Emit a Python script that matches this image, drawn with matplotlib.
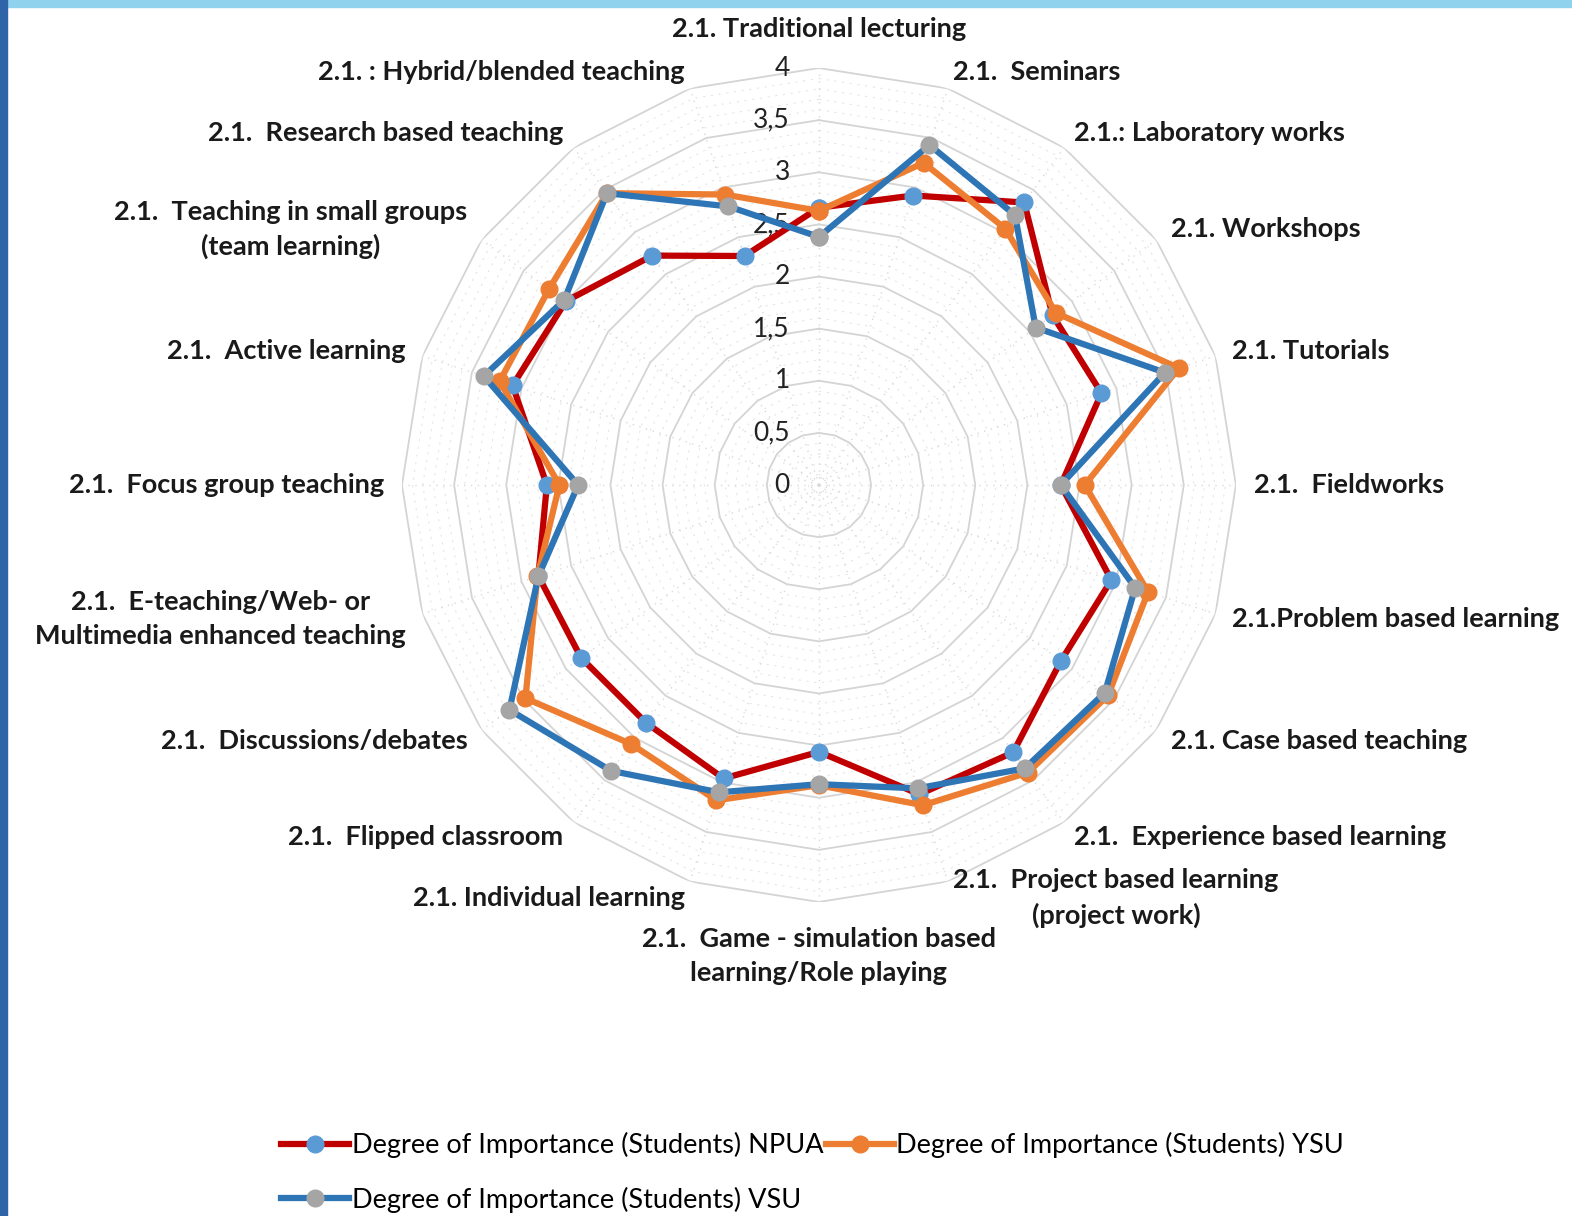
import numpy as np
import matplotlib.pyplot as plt
from matplotlib.patches import Rectangle

plt.rcParams['font.family'] = ['Lato', 'DejaVu Sans']

# --- data ---
categories = [
    "2.1. Traditional lecturing",
    "2.1.  Seminars",
    "2.1.: Laboratory works",
    "2.1. Workshops",
    "2.1. Tutorials",
    "2.1.  Fieldworks",
    "2.1.Problem based learning",
    "2.1. Case based teaching",
    "2.1.  Experience based learning",
    "2.1.  Project based learning\n(project work)",
    "2.1.  Game - simulation based\nlearning/Role playing",
    "2.1. Individual learning",
    "2.1.  Flipped classroom",
    "2.1.  Discussions/debates",
    "2.1.  E-teaching/Web- or\nMultimedia enhanced teaching",
    "2.1.  Focus group teaching",
    "2.1.  Active learning",
    "2.1.  Teaching in small groups\n(team learning)",
    "2.1.  Research based teaching",
    "2.1. : Hybrid/blended teaching",
]
npua = [2.66, 2.92, 3.35, 2.77, 2.85, 2.32, 2.95, 2.87, 3.17, 3.12,
        2.56, 2.96, 2.82, 2.82, 2.83, 2.61, 3.09, 3.00, 2.72, 2.31]
ysu = [2.63, 3.25, 3.04, 2.81, 3.63, 2.55, 3.32, 3.43, 3.41, 3.23,
       2.88, 3.18, 3.07, 3.48, 2.84, 2.49, 3.22, 3.20, 3.46, 2.93]
vsu = [2.38, 3.43, 3.20, 2.57, 3.49, 2.32, 3.19, 3.39, 3.36, 3.06,
       2.87, 3.10, 3.39, 3.67, 2.83, 2.31, 3.38, 3.02, 3.46, 2.81]
series_names = ["Degree of Importance (Students) NPUA",
                "Degree of Importance (Students) YSU",
                "Degree of Importance (Students) VSU"]
r_ticks = [0, 0.5, 1, 1.5, 2, 2.5, 3, 3.5, 4]
r_tick_labels = ["0", "0,5", "1", "1,5", "2", "2,5", "3", "3,5", "4"]

n = len(categories)
theta = np.linspace(0, 2 * np.pi, n, endpoint=False)
theta_c = np.append(theta, theta[0])

fig = plt.figure(figsize=(15.72, 12.16), dpi=100)
fig.patch.set_facecolor('white')
# slide frame strips
fig.add_artist(Rectangle((0, 0.994), 1, 0.006, transform=fig.transFigure,
                         color='#8fd2ee', zorder=0))
fig.add_artist(Rectangle((0, 0), 0.0045, 1, transform=fig.transFigure,
                         color='#2f64a8', zorder=0))

ax = fig.add_axes([0.2557, 0.2582, 0.5305, 0.6859], projection='polar')
ax.set_theta_zero_location('N')
ax.set_theta_direction(-1)
ax.set_ylim(0, 4)
ax.grid(False)
ax.spines['polar'].set_visible(False)
ax.set_xticks([])
ax.set_yticks([])
ax.patch.set_alpha(0)

# polygon gridlines: minor every 0.1, major every 0.5
for lv in np.arange(0.1, 4.01, 0.1):
    lv = round(lv, 1)
    if abs(lv * 2 - round(lv * 2)) < 1e-6:
        ax.plot(theta_c, [lv] * (n + 1), color='#d4d4d4', lw=1.3, zorder=1)
    else:
        ax.plot(theta_c, [lv] * (n + 1), color='#e6e6e6', lw=0.8,
                ls=(0, (2, 5)), zorder=1)
for t in theta:
    ax.plot([t, t], [0, 4], color='#d9d9d9', lw=1.0, ls=(0, (1, 4)), zorder=1)

# radial tick labels
for v, lab in zip(r_ticks, r_tick_labels):
    ax.annotate(lab, (0, v), xytext=(-21, 0), textcoords='offset points',
                ha='right', va='center', fontsize=19, color='#222222', zorder=2)

# series
styles = [
    dict(color='#c00000', mfc='#5b9bd5', mec='#5b9bd5'),
    dict(color='#ed7d31', mfc='#ed7d31', mec='#ed7d31'),
    dict(color='#2e75b6', mfc='#a5a5a5', mec='#a5a5a5'),
]
handles = []
for vals, name, st in zip([npua, ysu, vsu], series_names, styles):
    h, = ax.plot(theta_c, list(vals) + [vals[0]], lw=4.5, marker='o',
                 markersize=12, label=name, zorder=3, **st)
    handles.append(h)

# category labels
for t, lab in zip(theta, categories):
    s = np.sin(t)
    c = np.cos(t)
    if abs(s) < 0.01:
        ha = 'center'
        va = 'bottom' if c > 0 else 'top'
        r_lab = 4.26 if c > 0 else 4.24
    else:
        ha = 'left' if s > 0 else 'right'
        va = 'center'
        r_lab = 4.17
    ax.text(t, r_lab, lab, ha=ha, va=va, multialignment='center',
            fontsize=19.5, fontweight='bold', color='#1a1a1a',
            linespacing=1.5)

fig.legend([handles[0], handles[2], handles[1]],
           [series_names[0], series_names[2], series_names[1]],
           ncol=2, loc='upper left', bbox_to_anchor=(0.172, 0.078),
           frameon=False, fontsize=19.5, handlelength=2.5,
           columnspacing=0.1, handletextpad=0.1, labelspacing=1.05,
           borderaxespad=0)

fig.savefig('out.png', dpi=100)
